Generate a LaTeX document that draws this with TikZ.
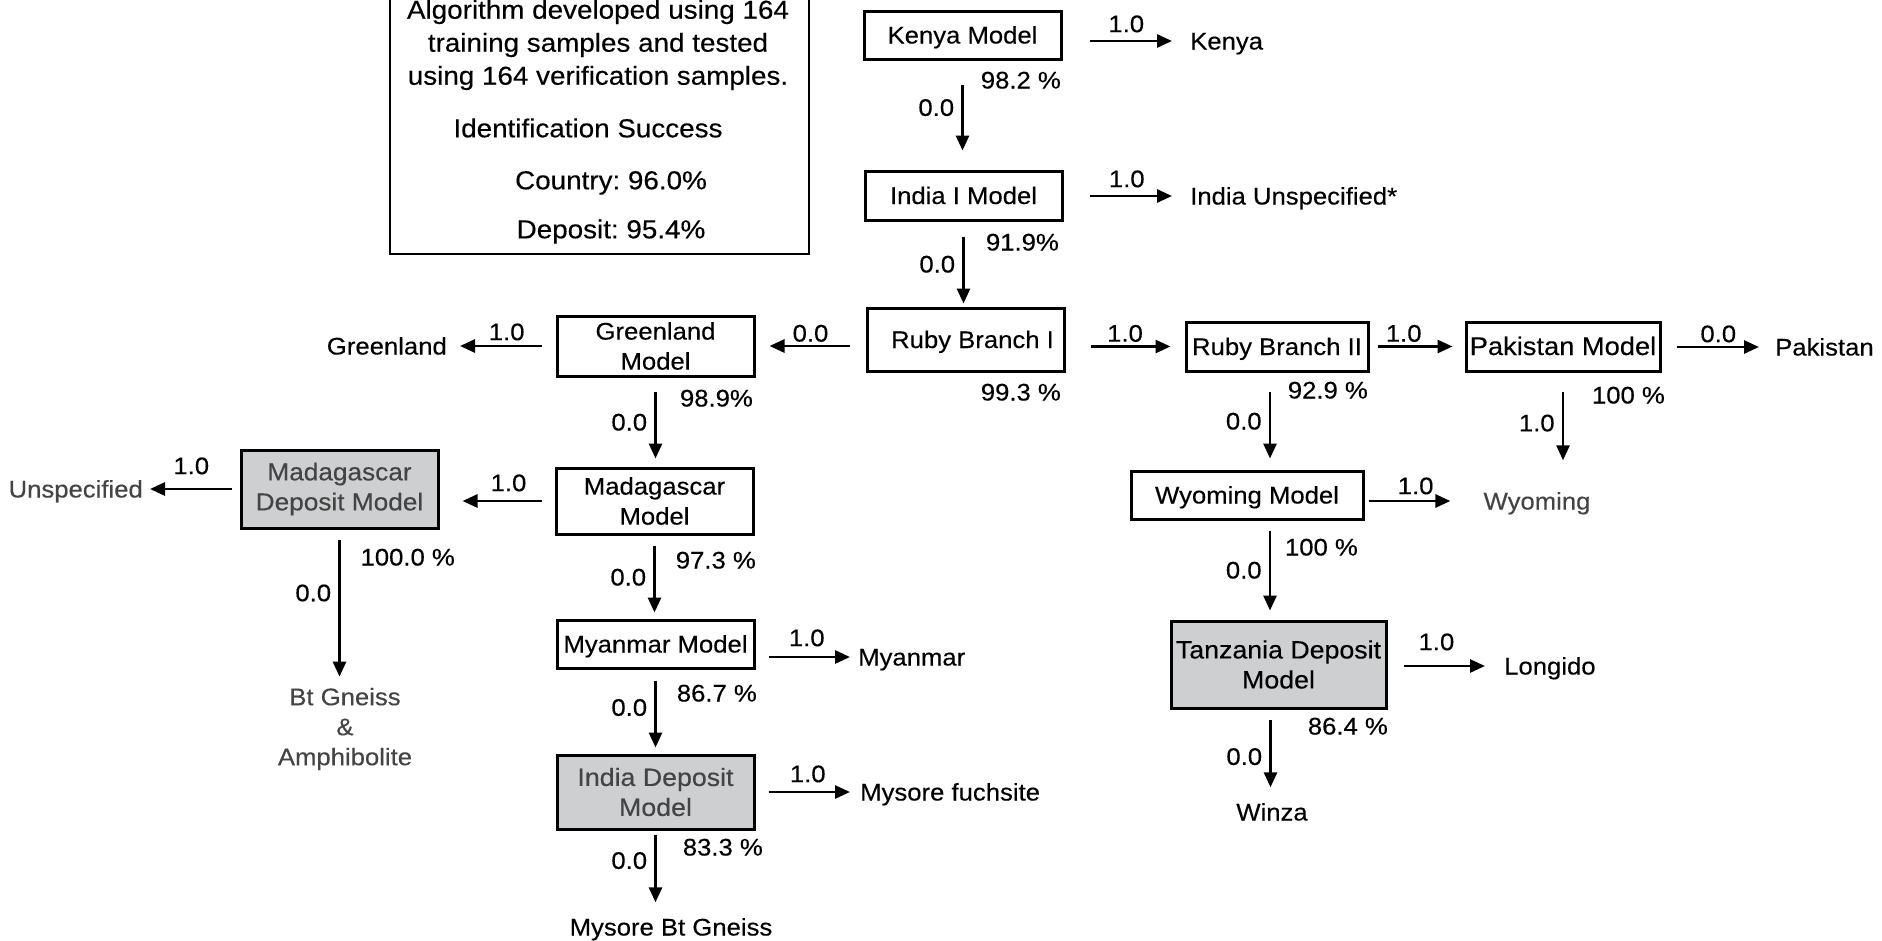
\documentclass[tikz,border=0pt]{standalone}
\usepackage{fontspec}
\setmainfont[FakeStretch=1.07, FakeBold=0.3]{Liberation Sans}
\usepackage{xcolor}
\usepackage{tikz}
\usetikzlibrary{arrows.meta}

\definecolor{boxgray}{RGB}{206,207,209}
\definecolor{softblack}{RGB}{68,68,68}
\newcommand{\nodefont}{\fontsize{24}{30}\selectfont}
\newcommand{\infofont}{\fontsize{26}{33}\selectfont}

\begin{document}
\frenchspacing
\begin{tikzpicture}[x=1pt, y=-1pt,
	every node/.style={font=\nodefont},
	box/.style={draw, line width=3pt, inner sep=0pt, text height=17pt, text depth=0pt},
	box2/.style={draw, line width=3pt, inner sep=0pt, align=center},
	shade/.style={fill=boxgray},
	txt/.style={inner sep=0pt, text height=17pt, text depth=0pt},
	arr/.style={line width=2.8pt, -{Triangle[length=15pt, width=13pt]}}]
	\useasboundingbox (0,0) rectangle (1882,940);
	\clip (0,0) rectangle (1882,940);
	
	% Summary box
	\node[draw, line width=2.8pt, minimum width=419pt, minimum height=274pt, inner sep=0pt] (info) at (599.5,117) {};
	\node[align=center, inner sep=0pt, font=\infofont] (algo) at (598,45) {Algorithm developed using 164\\training samples and tested\\using 164 verification samples.};
	\node[txt, text height=18.6pt, font=\infofont] (ident) at (588,128) {Identification Success};
	\node[txt, text height=18.6pt, font=\infofont] (country) at (611,180) {Country: 96.0\%};
	\node[txt, text height=18.6pt, font=\infofont] (deposit) at (611,229) {Deposit: 95.4\%};
	
	% Models
	\node[box, minimum width=197pt, minimum height=48pt] (kenya) at (962.5,35) {Kenya Model};
	\node[box, minimum width=197pt, minimum height=49pt] (india) at (963.5,195.5) {India I Model};
	\node[box, minimum width=197pt, minimum height=63pt] (rubya) at (965.5,339.5) {\hspace*{14pt}Ruby Branch I};
	\node[box, minimum width=182pt, minimum height=49pt] (rubyb) at (1277,346.5) {Ruby Branch II};
	\node[box, minimum width=194pt, minimum height=49pt, font=\fontsize{25.5}{30}\selectfont] (pak) at (1563,346.5) {Pakistan Model};
	\node[box2, minimum width=197pt, minimum height=60pt] (green) at (655.5,346) {Greenland\\Model};
	\node[box2, minimum width=197pt, minimum height=66pt] (madm) at (654.5,501) {Madagascar\\Model};
	\node[box2, shade, text=softblack, minimum width=197pt, minimum height=78pt, font=\fontsize{24.5}{30}\selectfont] (madd) at (339.5,489) {Madagascar\\Deposit Model};
	\node[box, minimum width=197pt, minimum height=48pt] (myan) at (655.5,644) {Myanmar Model};
	\node[box2, shade, text=softblack, minimum width=197pt, minimum height=74pt, font=\fontsize{25}{30}\selectfont] (indd) at (655.5,792) {India Deposit\\Model};
	\node[box, minimum width=232pt, minimum height=48pt] (wyom) at (1247,495) {Wyoming Model};
	\node[box2, shade, minimum width=215pt, minimum height=87pt, font=\fontsize{25}{30}\selectfont] (tanz) at (1278.5,664.5) {Tanzania Deposit\\Model};
	
	% Outcomes
	\node[txt, anchor=west] (kenyaout) at (1190,41) {Kenya};
	\node[txt, anchor=west] (indout) at (1190,196) {India Unspecified*};
	\node[txt, anchor=east] (greenout) at (447,346) {Greenland};
	\node[txt, anchor=east, text=softblack] (unspec) at (143,489) {Unspecified};
	\node[align=center, inner sep=0pt, text=softblack] (btg) at (345,729) {Bt Gneiss\\\&\\Amphibolite};
	\node[txt, anchor=west] (myanout) at (858,657) {Myanmar};
	\node[txt, anchor=west] (mysf) at (860,792) {Mysore fuchsite};
	\node[txt] (mysbt) at (671,927) {Mysore Bt Gneiss};
	\node[txt, anchor=west] (pakout) at (1775,347) {Pakistan};
	\node[txt, text=softblack] (wyout) at (1537,501) {Wyoming};
	\node[txt, anchor=west] (longido) at (1504,666) {Longido};
	\node[txt] (winza) at (1272,812) {Winza};
	
	% Success rates
	\node[txt, anchor=east] (pkenya) at (1061,80) {98.2 \%};
	\node[txt, anchor=east] (pindia) at (1059,242) {91.9\%};
	\node[txt, anchor=east] (prubya) at (1061,392) {99.3 \%};
	\node[txt, anchor=east] (pgreen) at (753,398) {98.9\%};
	\node[txt, anchor=east] (pmadm) at (756,560) {97.3 \%};
	\node[txt, anchor=east] (pmyan) at (757,693) {86.7 \%};
	\node[txt, anchor=east] (pindd) at (763,847) {83.3 \%};
	\node[txt, anchor=east] (pmadd) at (455,557) {100.0 \%};
	\node[txt, anchor=east] (prubyb) at (1368,390) {92.9 \%};
	\node[txt, anchor=east] (ppak) at (1665,395) {100 \%};
	\node[txt, anchor=east] (pwyom) at (1358,547) {100 \%};
	\node[txt, anchor=east] (ptanz) at (1388,726) {86.4 \%};
	
	% Kenya / India column
	\draw[arr, shorten <=27pt, shorten >=18pt] (kenya.east |- kenyaout.west) -- (kenyaout.west) node[midway, above=7.4pt, txt] (ekenya) {1.0};
	\draw[arr, shorten <=26pt, shorten >=18pt] (india.east |- indout.west) -- (indout.west) node[midway, above=7.4pt, txt] (eindia) {1.0};
	\draw[arr, shorten <=24pt, shorten >=19pt] (kenya.south) -- (kenya.south |- india.north) node[pos=0.43, left=7pt, txt] (ekenyaindia) {0.0};
	\draw[arr, shorten <=15pt, shorten >=3pt] (india.south) -- (india.south |- rubya.north) node[midway, left=7pt, txt] (eindiaruby) {0.0};
	
	% Left branch
	\draw[arr, shorten <=16pt, shorten >=14pt] (rubya.west |- green.east) -- (green.east) node[midway, above=3pt, txt] (erubygreen) {0.0};
	\draw[arr, shorten <=14pt, shorten >=13pt] (green.west) -- (greenout.east) node[pos=0.45, above=4.4pt, txt] (egreen) {1.0};
	\draw[arr, shorten <=14pt, shorten >=8pt] (green.south) -- (green.south |- madm.north) node[midway, left=7pt, txt] (egreenmadm) {0.0};
	\draw[arr, shorten <=13pt, shorten >=23pt] (madm.west) -- (madm.west -| madd.east) node[pos=0.4, above=8.4pt, txt] (emadm) {1.0};
	\draw[arr, shorten <=8pt, shorten >=7pt] (madd.west) -- (unspec.east) node[midway, above=13.4pt, txt] (emadd) {1.0};
	\draw[arr, shorten <=10pt, shorten >=11pt] (madd.south) -- (madd.south |- btg.north) node[pos=0.4, left=7pt, txt] (emaddbtg) {0.0};
	\draw[arr, shorten <=10pt, shorten >=6pt] (madm.south) -- (madm.south |- myan.north) node[midway, left=7pt, txt] (emadmmyan) {0.0};
	\draw[arr, shorten <=13pt, shorten >=8pt] (myan.east |- myanout.west) -- (myanout.west) node[midway, above=9.4pt, txt] (emyan) {1.0};
	\draw[arr, shorten <=11pt, shorten >=6pt] (myan.south) -- (myan.south |- indd.north) node[pos=0.45, left=7pt, txt] (emyanindd) {0.0};
	\draw[arr, shorten <=13pt, shorten >=10pt] (indd.east |- mysf.west) -- (mysf.west) node[midway, above=8.4pt, txt] (eindd) {1.0};
	\draw[arr, shorten <=4pt, shorten >=16pt] (indd.south) -- (indd.south |- mysbt.north) node[pos=0.34, left=7pt, txt] (einddmys) {0.0};
	
	% Right branch
	\draw[arr, shorten <=25pt, shorten >=14pt] (rubya.east |- rubyb.west) -- (rubyb.west) node[midway, above=3.4pt, txt] (erubyab) {1.0};
	\draw[arr, shorten <=8pt, shorten >=12pt] (rubyb.east) -- (pak.west) node[pos=0.36, above=3.4pt, txt] (erubybpak) {1.0};
	\draw[arr, shorten <=15pt, shorten >=16pt] (pak.east |- pakout.west) -- (pakout.west) node[midway, above=3.4pt, txt] (epak) {0.0};
	\draw[arr, shorten <=19pt, shorten >=11pt] ([xshift=-7pt]rubyb.south) -- ([xshift=-7pt]rubyb.south |- wyom.north) node[midway, left=7pt, txt] (erubybwyom) {0.0};
	\draw[arr, shorten <=19pt, shorten >=32pt] (pak.south) -- (pak.south |- wyout.north) node[pos=0.42, left=7pt, txt] (epakwy) {1.0};
	\draw[arr, shorten <=4pt, shorten >=33pt] (wyom.east |- wyout.west) -- (wyout.west) node[pos=0.43, above=5.4pt, txt] (ewyom) {1.0};
	\draw[arr, shorten <=10pt, shorten >=9pt] ([xshift=23pt]wyom.south) -- ([xshift=23pt]wyom.south |- tanz.north) node[midway, left=7pt, txt] (ewyomtanz) {0.0};
	\draw[arr, shorten <=16pt, shorten >=19pt] (tanz.east |- longido.west) -- (longido.west) node[pos=0.42, above=14.4pt, txt] (etanz) {1.0};
	\draw[arr, shorten <=10pt, shorten >=16pt] ([xshift=-8pt]tanz.south) -- ([xshift=-8pt]tanz.south |- winza.north) node[midway, left=7pt, txt] (etanzwinza) {0.0};
\end{tikzpicture}
\end{document}
